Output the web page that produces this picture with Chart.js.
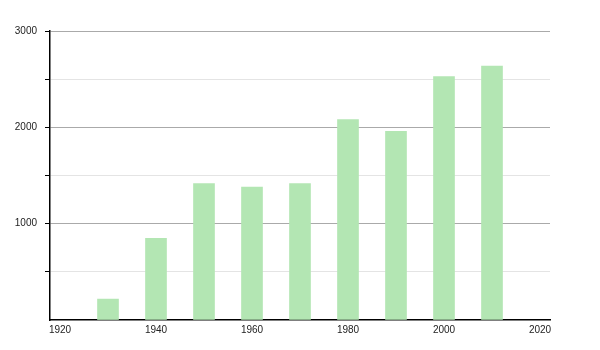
<!DOCTYPE html>
<html>
<head>
<meta charset="utf-8">
<script src="https://cdn.jsdelivr.net/npm/chart.js@4/dist/chart.umd.min.js"></script>
<style>
html,body{margin:0;padding:0;background:#fff;}
#wrap{width:600px;height:350px;}
</style>
</head>
<body>
<div id="wrap"><canvas id="c" width="600" height="350"></canvas></div>
<script>
const years = [1930, 1940, 1950, 1960, 1970, 1980, 1990, 2000, 2010];
const population = [217, 847, 1417, 1381, 1417, 2080, 1958, 2528, 2635];
const xTickYears = [1920, 1940, 1960, 1980, 2000, 2020];
const yLabelValues = [1000, 2000, 3000];

const pxPerYear = 4.8;
const edgePad = 10 / pxPerYear;

new Chart(document.getElementById('c'), {
  type: 'bar',
  data: {
    datasets: [{
      data: years.map((y, i) => ({ x: y, y: population[i] })),
      backgroundColor: '#b3e6b3',
      borderWidth: 0,
      barThickness: 21
    }]
  },
  options: {
    responsive: false,
    animation: false,
    devicePixelRatio: 1,
    layout: { padding: { left: 0, top: 31, right: 50, bottom: 0 } },
    plugins: { legend: { display: false }, tooltip: { enabled: false } },
    scales: {
      x: {
        type: 'linear',
        min: xTickYears[0] - edgePad,
        max: xTickYears[xTickYears.length - 1] + edgePad,
        offset: false,
        afterBuildTicks: s => { s.ticks = xTickYears.map(v => ({ value: v })); },
        afterFit: s => { s.height = 30; },
        grid: { display: true, color: 'rgba(0,0,0,0)', drawTicks: false },
        border: { display: true, color: '#000', width: 1.5 },
        ticks: {
          padding: 4,
          color: '#222',
          font: { family: 'Liberation Sans, Arial, sans-serif', size: 10 },
          maxRotation: 0,
          autoSkip: false,
          callback: v => String(v)
        }
      },
      y: {
        min: 0,
        max: 3000,
        afterFit: s => { s.width = 50; },
        grid: {
          color: c => c.tick.value === 0 ? 'rgba(0,0,0,0)' : (c.tick.value % 1000 === 0 ? '#aaaaaa' : '#e4e4e4'),
          tickColor: c => c.tick.value === 0 ? 'rgba(0,0,0,0)' : '#000',
          tickLength: 5,
          drawTicks: true
        },
        border: { display: true, color: '#000', width: 1.5 },
        ticks: {
          stepSize: 500,
          padding: 8,
          color: '#222',
          font: { family: 'Liberation Sans, Arial, sans-serif', size: 10 },
          callback: v => yLabelValues.includes(v) ? String(v) : ''
        }
      }
    }
  }
});
</script>
</body>
</html>
